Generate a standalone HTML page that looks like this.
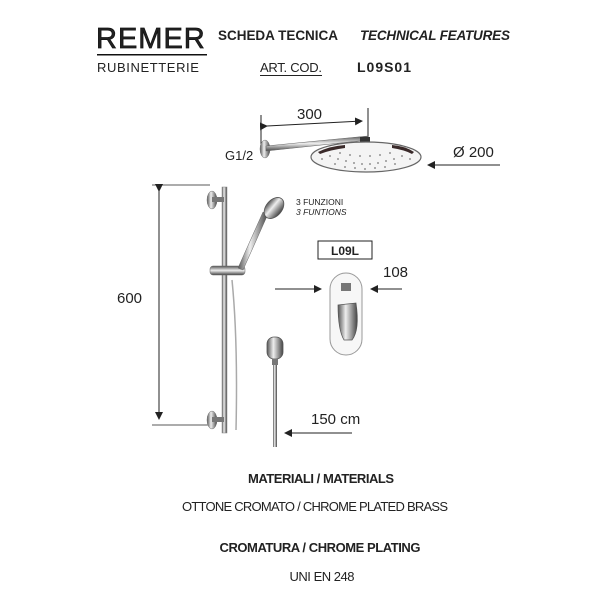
<!DOCTYPE html>
<html><head><meta charset="utf-8"><style>
body{margin:0;background:#fff;width:600px;height:600px;overflow:hidden}
svg{display:block}
text{font-family:"Liberation Sans",sans-serif;fill:#222}
</style></head><body>
<svg width="600" height="600" viewBox="0 0 600 600">
<defs>
<marker id="a" markerWidth="8" markerHeight="8" refX="7" refY="4" orient="auto" markerUnits="userSpaceOnUse"><path d="M0,0 L8,4 L0,8 z" fill="#222"/></marker>
<linearGradient id="c" x1="0" x2="1"><stop offset="0" stop-color="#555"/><stop offset=".4" stop-color="#eee"/><stop offset="1" stop-color="#444"/></linearGradient>
<linearGradient id="cv" x1="0" y1="0" x2="0" y2="1"><stop offset="0" stop-color="#555"/><stop offset=".5" stop-color="#eee"/><stop offset="1" stop-color="#444"/></linearGradient>
</defs>
<!-- header -->
<text x="96" y="48" font-size="29" letter-spacing="1" fill="#111" stroke="#111" stroke-width="0.7">REMER</text>
<rect x="97" y="54" width="110" height="1.5" fill="#111"/>
<text x="97" y="72" font-size="13" letter-spacing="0.6">RUBINETTERIE</text>
<text x="218" y="40" font-size="13.5" font-weight="bold" textLength="120">SCHEDA TECNICA</text>
<text x="360" y="40" font-size="13.5" font-weight="bold" font-style="italic" textLength="150">TECHNICAL FEATURES</text>
<text x="260" y="72" font-size="13" textLength="62">ART. COD.</text>
<rect x="260" y="75" width="62" height="1" fill="#222"/>
<text x="357" y="72" font-size="14" font-weight="bold" textLength="54">L09S01</text>
<!-- rain shower -->
<text x="297" y="119" font-size="15">300</text>
<line x1="261" y1="115" x2="261" y2="150" stroke="#222" stroke-width="1"/>
<line x1="368" y1="108" x2="368" y2="140" stroke="#222" stroke-width="1"/>
<line x1="267" y1="126" x2="362" y2="121" stroke="#222" stroke-width="1" marker-start="url(#a)" marker-end="url(#a)"/>
<ellipse cx="265" cy="149" rx="5" ry="9" fill="url(#c)" stroke="#777" stroke-width=".5"/>
<path d="M266,146 L368,136 L368,140 L266,151 z" fill="url(#cv)" stroke="#666" stroke-width=".5"/>
<rect x="360" y="137" width="10" height="9" fill="#333"/>
<ellipse cx="366" cy="157" rx="55" ry="15" fill="#f4f4f4" stroke="#666" stroke-width="1.2"/>
<path d="M318,152 Q330,146 345,145 L345,148 Q330,150 320,154 z" fill="#3a2a2a"/>
<path d="M414,152 Q405,146 392,145 L392,148 Q405,150 412,154 z" fill="#3a2a2a"/>
<g fill="#777">
<circle cx="330" cy="156" r=".9"/><circle cx="338" cy="159" r=".9"/><circle cx="346" cy="161" r=".9"/><circle cx="354" cy="163" r=".9"/><circle cx="362" cy="164" r=".9"/><circle cx="370" cy="164" r=".9"/><circle cx="378" cy="163" r=".9"/><circle cx="386" cy="161" r=".9"/><circle cx="394" cy="159" r=".9"/><circle cx="402" cy="156" r=".9"/>
<circle cx="340" cy="153" r=".9"/><circle cx="350" cy="155" r=".9"/><circle cx="360" cy="156" r=".9"/><circle cx="370" cy="156" r=".9"/><circle cx="380" cy="155" r=".9"/><circle cx="390" cy="153" r=".9"/>
<circle cx="345" cy="167" r=".9"/><circle cx="355" cy="168" r=".9"/><circle cx="365" cy="169" r=".9"/><circle cx="375" cy="168" r=".9"/><circle cx="385" cy="167" r=".9"/><circle cx="335" cy="164" r=".9"/><circle cx="395" cy="164" r=".9"/><circle cx="322" cy="159" r=".9"/><circle cx="410" cy="159" r=".9"/>
</g>
<text x="225" y="160" font-size="13">G1/2</text>
<text x="453" y="157" font-size="15">Ø 200</text>
<line x1="500" y1="165" x2="428" y2="165" stroke="#222" stroke-width="1" marker-end="url(#a)"/>
<!-- slide bar dims -->
<line x1="152" y1="185" x2="210" y2="185" stroke="#222" stroke-width=".8"/>
<line x1="152" y1="425" x2="210" y2="425" stroke="#222" stroke-width=".8"/>
<line x1="159" y1="191" x2="159" y2="419" stroke="#222" stroke-width="1" marker-start="url(#a)" marker-end="url(#a)"/>
<text x="117" y="303" font-size="15">600</text>
<!-- bar -->
<rect x="222" y="187" width="5" height="246" fill="url(#c)" stroke="#888" stroke-width=".5"/>
<ellipse cx="212" cy="200" rx="5" ry="9" fill="url(#c)" stroke="#777" stroke-width=".5"/>
<rect x="212" y="197" width="12" height="5" fill="#777"/>
<ellipse cx="212" cy="420" rx="5" ry="9" fill="url(#c)" stroke="#777" stroke-width=".5"/>
<rect x="212" y="417" width="12" height="5" fill="#777"/>
<rect x="210" y="266" width="35" height="9" rx="3" fill="url(#cv)" stroke="#666" stroke-width=".5"/>
<path d="M238,268 L263,212 L268,214 L243,270 z" fill="url(#c)" stroke="#666" stroke-width=".5"/>
<ellipse cx="274" cy="208" rx="8" ry="12" transform="rotate(40 274 208)" fill="url(#c)" stroke="#555" stroke-width=".8"/>
<path d="M232,280 Q238,340 236,430" fill="none" stroke="#aaa" stroke-width="1.5"/>
<text x="296" y="205" font-size="8.5">3 FUNZIONI</text>
<text x="296" y="215" font-size="8.5" font-style="italic">3 FUNTIONS</text>
<!-- mixer -->
<rect x="318" y="241" width="54" height="18" fill="#fff" stroke="#222" stroke-width="1"/>
<text x="345" y="255" font-size="12" font-weight="bold" text-anchor="middle">L09L</text>
<text x="383" y="277" font-size="15">108</text>
<line x1="275" y1="289" x2="321" y2="289" stroke="#222" stroke-width="1" marker-end="url(#a)"/>
<line x1="402" y1="289" x2="371" y2="289" stroke="#222" stroke-width="1" marker-end="url(#a)"/>
<rect x="330" y="273" width="32" height="82" rx="16" fill="#f7f7f7" stroke="#999" stroke-width="1"/>
<rect x="341" y="283" width="10" height="8" fill="#777"/>
<path d="M338,305 L356,303 Q360,330 352,340 L344,340 Q338,330 338,305 z" fill="url(#c)" stroke="#555" stroke-width=".7"/>
<!-- outlet + hose -->
<rect x="267" y="337" width="16" height="22" rx="7" fill="url(#c)" stroke="#555" stroke-width=".8"/>
<rect x="272" y="359" width="6" height="6" fill="#777"/>
<rect x="273" y="365" width="4" height="82" fill="url(#c)"/>
<text x="311" y="424" font-size="15">150 cm</text>
<line x1="352" y1="433" x2="285" y2="433" stroke="#222" stroke-width="1" marker-end="url(#a)"/>
<!-- bottom -->
<text x="321" y="483" font-size="13" font-weight="bold" text-anchor="middle" textLength="146">MATERIALI / MATERIALS</text>
<text x="315" y="511" font-size="13" text-anchor="middle" textLength="266">OTTONE CROMATO / CHROME PLATED BRASS</text>
<text x="320" y="552" font-size="13" font-weight="bold" text-anchor="middle" textLength="201">CROMATURA / CHROME PLATING</text>
<text x="322" y="581" font-size="13" text-anchor="middle" textLength="65">UNI EN 248</text>
</svg>
</body></html>
